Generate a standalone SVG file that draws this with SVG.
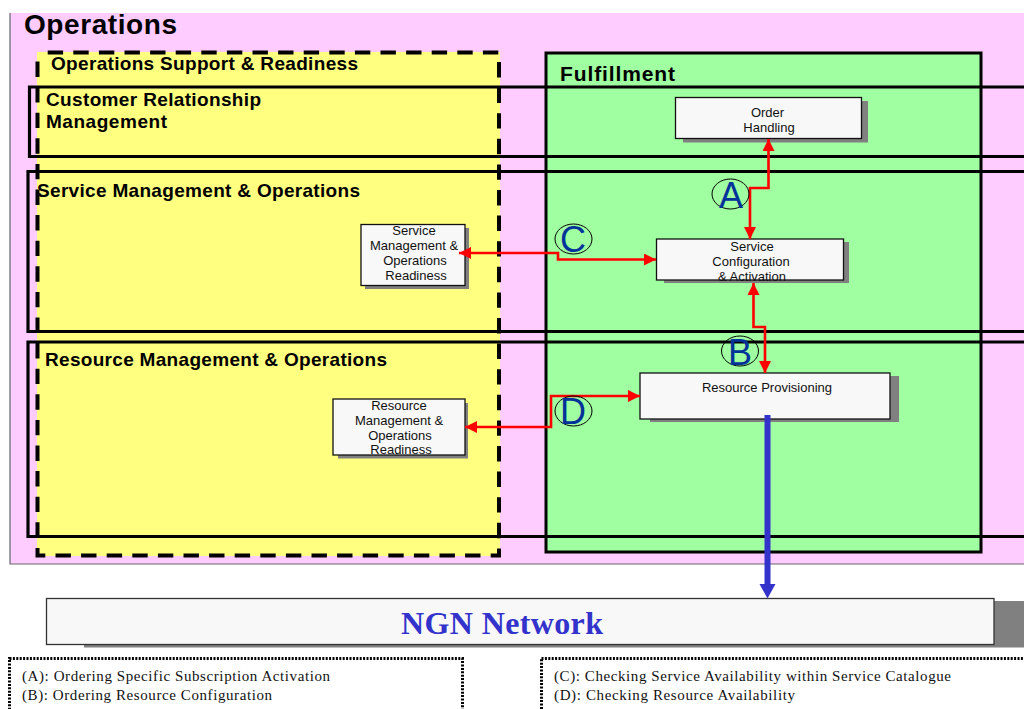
<svg xmlns="http://www.w3.org/2000/svg" width="1024" height="709" viewBox="0 0 1024 709">
<style>
.band{fill:none;stroke:#000;stroke-width:3.2}
.h{font:bold 19px "Liberation Sans",Arial,sans-serif;fill:#000}
.box{fill:#f8f8f8;stroke:#111;stroke-width:1.3}
.sh{fill:#808080}
.t{font:13px "Liberation Sans",Arial,sans-serif;fill:#111;text-anchor:middle}
.r{fill:none;stroke:#f00;stroke-width:2.6}
.tag{fill:none;stroke:#000;stroke-width:1}
.l{font:36px "Liberation Sans",Arial,sans-serif;fill:#003399;text-anchor:middle}
.leg{fill:#fff;stroke:#000;stroke-width:3;stroke-dasharray:2 1.4}
.lt{font:15px "Liberation Serif","Times New Roman",serif;fill:#111}
</style>
<defs>
<marker id="ar" markerUnits="userSpaceOnUse" markerWidth="14" markerHeight="14" refX="12" refY="6" orient="auto-start-reverse"><path d="M0 0L12 6L0 12Z" fill="#f00"/></marker>
<marker id="ab" markerUnits="userSpaceOnUse" markerWidth="18" markerHeight="18" refX="14" refY="8" orient="auto"><path d="M0 0L14 8L0 16Z" fill="#3333cc"/></marker>
</defs>
<g id="operations">
<rect x="10" y="13" width="1016" height="551" fill="#ffccff"/>
<path d="M10 13V564H1024" fill="none" stroke="#666" stroke-width="1.2"/>
<text x="24" y="34" style="font:bold 28px 'Liberation Sans',Arial,sans-serif" textLength="153" lengthAdjust="spacing">Operations</text>
</g>
<g id="support-fill"><rect x="37" y="52" width="463" height="504" fill="#ffff80"/></g>
<g id="fulfillment">
<rect x="546" y="53" width="435" height="499" fill="#a0ffa0" stroke="#000" stroke-width="3"/>
<text x="560" y="81" style="font:bold 21px 'Liberation Sans',Arial,sans-serif" textLength="115">Fulfillment</text>
</g>
<g id="crm">
<path class="band" d="M1024 87H29.500V156.500H1024"/>
<text class="h" x="46" y="106" textLength="215">Customer Relationship</text>
<text class="h" x="46" y="128" textLength="121">Management</text>
</g>
<g id="smo">
<path class="band" d="M1024 171.500H28V331.500H1024"/>
<text class="h" x="37" y="197" textLength="323">Service Management &amp; Operations</text>
</g>
<g id="rmo">
<path class="band" d="M1024 342H28V536.500H1024"/>
<text class="h" x="45" y="366" textLength="342">Resource Management &amp; Operations</text>
</g>
<g id="support">
<rect x="37.500" y="52.500" width="461.500" height="503" fill="none" stroke="#000" stroke-width="4" stroke-dasharray="15.400 10.200" stroke-dashoffset="15.400"/>
<text class="h" x="51" y="70" textLength="307">Operations Support &amp; Readiness</text>
</g>
<g id="order-handling">
<rect class="sh" x="683" y="101" width="185" height="41.500"/>
<rect class="box" x="675.500" y="97.500" width="186" height="41"/>
<text class="t" x="767.500" y="117">Order</text><text class="t" x="769" y="132">Handling</text>
</g>
<g id="service-config">
<rect class="sh" x="664" y="242" width="185" height="41"/>
<rect class="box" x="656.500" y="239" width="187" height="41"/>
<text class="t" x="752" y="251">Service</text><text class="t" x="751" y="266">Configuration</text><text class="t" x="752" y="281">&amp; Activation</text>
</g>
<g id="resource-prov">
<rect class="sh" x="650" y="376" width="249" height="46"/>
<rect class="box" x="640" y="373" width="250" height="46"/>
<text class="t" x="767" y="392">Resource Provisioning</text>
</g>
<g id="service-readiness">
<rect class="sh" x="365" y="228" width="104" height="61"/>
<rect class="box" x="361" y="224.500" width="104" height="61"/>
<text class="t" x="414" y="235">Service</text><text class="t" x="414" y="250">Management &amp;</text><text class="t" x="415" y="265">Operations</text><text class="t" x="416" y="280">Readiness</text>
</g>
<g id="resource-readiness">
<rect class="sh" x="338" y="403" width="130" height="55.500"/>
<rect class="box" x="333" y="399" width="132" height="56"/>
<text class="t" x="399" y="410">Resource</text><text class="t" x="399" y="425">Management &amp;</text><text class="t" x="400" y="440">Operations</text><text class="t" x="401" y="454">Readiness</text>
</g>
<g id="ngn">
<rect class="sh" x="84" y="601" width="940" height="46.500"/>
<rect class="box" x="46.500" y="598.500" width="947.500" height="46" style="stroke:#333"/>
<text x="401" y="634" textLength="202" style="font:bold 32px 'Liberation Serif','Times New Roman',serif;fill:#3333cc">NGN Network</text>
</g>
<g id="connectors">
<path class="r" d="M768.500 139V188H750V239" marker-start="url(#ar)" marker-end="url(#ar)"/>
<path class="r" d="M753.500 283V327H765V373" marker-start="url(#ar)" marker-end="url(#ar)"/>
<path class="r" d="M459 253H558V259.500H656" marker-start="url(#ar)" marker-end="url(#ar)"/>
<path class="r" d="M465 427H551V396H640" marker-start="url(#ar)" marker-end="url(#ar)"/>
<path d="M767.500 415V585" fill="none" stroke="#3333cc" stroke-width="6"/>
<path d="M759.500 584H775.500L767.500 598.500Z" fill="#3333cc"/>
</g>
<g id="tag-a"><ellipse class="tag" cx="730.500" cy="194" rx="18.500" ry="15"/><text class="l" x="731" y="208">A</text></g>
<g id="tag-c"><ellipse class="tag" cx="573.500" cy="239" rx="18.500" ry="15"/><text class="l" x="573" y="252">C</text></g>
<g id="tag-b"><ellipse class="tag" cx="740" cy="351" rx="18.500" ry="15"/><text class="l" x="740" y="365">B</text></g>
<g id="tag-d"><ellipse class="tag" cx="573.500" cy="411" rx="18.500" ry="15"/><text class="l" x="573" y="424">D</text></g>
<g id="legend-ab">
<rect class="leg" x="9.500" y="658.500" width="453" height="52"/>
<text class="lt" x="22" y="681" textLength="308">(A): Ordering Specific Subscription Activation</text>
<text class="lt" x="22" y="700" textLength="250">(B): Ordering Resource Configuration</text>
</g>
<g id="legend-cd">
<rect class="leg" x="541.500" y="658.500" width="490" height="52"/>
<text class="lt" x="554" y="681" textLength="397">(C): Checking Service Availability within Service Catalogue</text>
<text class="lt" x="554" y="700" textLength="241">(D): Checking Resource Availability</text>
</g>
</svg>
